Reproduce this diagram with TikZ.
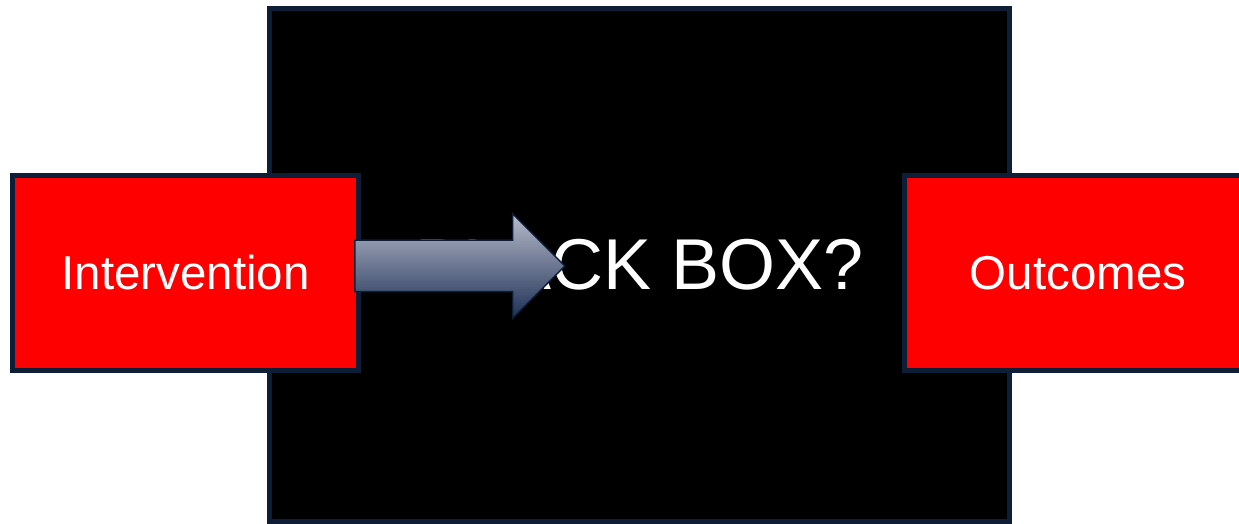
\documentclass[tikz,border=0pt]{standalone}
\usepackage{fontspec}
\setmainfont{Liberation Sans}
\usetikzlibrary{shapes.arrows, positioning}
\definecolor{boxline}{HTML}{0E1E36}
\definecolor{boxred}{HTML}{FF0000}
\definecolor{arrowtop}{HTML}{B8BCCC}
\definecolor{arrowbottom}{HTML}{1E3055}

\begin{document}
\begin{tikzpicture}[x=1pt, y=1pt,
        box/.style={draw=boxline, line width=5pt, rectangle, text=white, inner sep=0},
        redbox/.style={box, fill=boxred, minimum width=346pt, minimum height=195pt,
            font=\fontsize{47.5}{57}\selectfont},
        blockarrow/.style={single arrow, draw=boxline, line width=1.5pt,
            top color=arrowtop, bottom color=arrowbottom,
            inner xsep=0, inner ysep=25pt, minimum height=210pt,
            single arrow head extend=26.5pt, single arrow tip angle=90},
    ]
    \clip (0,0) rectangle (1239,524);

    \node[box, fill=black, minimum width=740pt, minimum height=513pt,
        font=\fontsize{72}{86}\selectfont] (blackbox) at (639.5,259) {BLACK BOX?};

    \node[redbox] (intervention) at (185.5,251) {Intervention};
    \node[redbox, minimum width=347pt] (outcomes) at (1078,251) {Outcomes};

    % arrow into the box
    \node[blockarrow] (into) at (447,258) {};
\end{tikzpicture}
\end{document}
